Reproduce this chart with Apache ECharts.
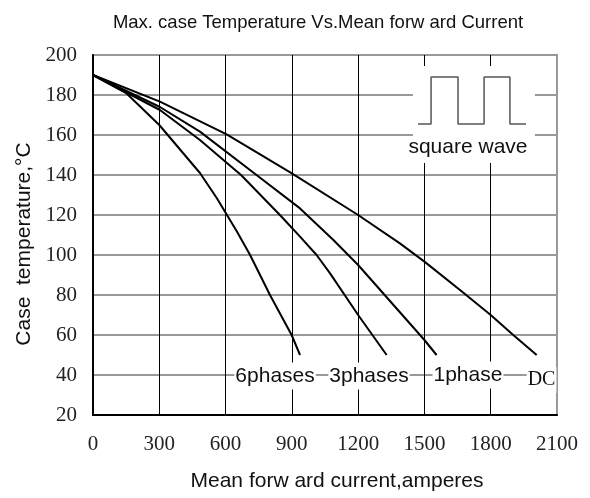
<!DOCTYPE html>
<html>
<head>
<meta charset="utf-8">
<script src="https://cdn.jsdelivr.net/npm/echarts@6/dist/echarts.min.js"></script>
<style>
  html, body { margin: 0; padding: 0; background: #fff; }
  #chart { width: 590px; height: 498px; }
</style>
</head>
<body>
<div id="chart"></div>
<script>
// axis ticks
const xTicks = [0, 300, 600, 900, 1200, 1500, 1800, 2100]
const yTicks = [20, 40, 60, 80, 100, 120, 140, 160, 180, 200]

// curves (current A, temperature °C)
const dcCurrent = [0, 303, 605, 900, 1200, 1389, 1500, 1661, 1800, 1902, 2008]
const dcTemp = [190, 176.7, 160.3, 140.8, 120, 105.8, 96.7, 82.5, 70, 60, 50]

const onePhaseCurrent = [0, 303, 484, 740, 937, 1088, 1200, 1500, 1555]
const onePhaseTemp = [190, 174, 161.7, 140, 123.3, 107.5, 95, 57.5, 50]

const threePhaseCurrent = [0, 303, 484, 670, 846, 937, 1012, 1073, 1200, 1329]
const threePhaseTemp = [190, 172.5, 157.5, 140, 120, 109.2, 100, 90.8, 70, 50]

const sixPhaseCurrent = [0, 150, 300, 484, 560, 650, 711, 801, 899, 937]
const sixPhaseTemp = [190, 181, 165, 141, 128.5, 112, 100, 80, 60, 50]

// little square wave sketch in the corner
const waveX = [1471, 1530, 1530, 1652, 1652, 1770, 1770, 1887, 1887, 1960]
const waveY = [165.5, 165.5, 189, 189, 165.5, 165.5, 189, 189, 165.5, 165.5]
const waveBox = [[1448, 194.5], [2000, 146]]

// text labels on the plot
const labelNames = ['6phases', '3phases', '1phase', 'DC', 'square wave']
const labelX = [824, 1249, 1697, 2030, 1697]
const labelY = [39.5, 39.5, 40, 37.5, 154]

const zip = (xs, ys) => xs.map((x, i) => [x, ys[i]])

const sans = 'Liberation Sans, Arial, sans-serif'
const serif = 'Liberation Serif, Times New Roman, serif'

const curve = (data) => ({
  type: 'line',
  data: data,
  symbol: 'none',
  smooth: false,
  z: 5,
  lineStyle: { color: '#000', width: 2 }
})

const chart = echarts.init(document.getElementById('chart'))

chart.setOption({
  animation: false,
  title: {
    text: 'Max. case Temperature Vs.Mean forw ard Current',
    left: 313,
    top: 8,
    textAlign: 'center',
    textStyle: {
      fontFamily: sans,
      fontSize: 18.5,
      fontWeight: 'normal',
      color: '#111'
    }
  },
  grid: {
    left: 93,
    right: 33,
    top: 55,
    bottom: 83,
    show: true,
    borderColor: '#999',
    borderWidth: 2
  },
  xAxis: {
    type: 'value',
    min: xTicks[0],
    max: xTicks[xTicks.length - 1],
    interval: 300,
    name: 'Mean forw ard current,amperes',
    nameLocation: 'middle',
    nameGap: 56,
    nameTextStyle: {
      fontFamily: sans,
      fontSize: 21,
      color: '#111',
      padding: [0, 0, 0, 24]
    },
    axisLine: { lineStyle: { color: '#000', width: 2 } },
    axisTick: { show: false },
    axisLabel: {
      margin: 19,
      fontFamily: serif,
      fontSize: 21,
      color: '#222',
      formatter: (v) => String(v)
    },
    splitLine: {
      lineStyle: {
        color: ['#000', '#000', '#000', '#000', '#000', '#000', '#000', '#999'],
        width: 1
      }
    }
  },
  yAxis: {
    type: 'value',
    min: yTicks[0],
    max: yTicks[yTicks.length - 1],
    interval: 20,
    name: 'Case  temperature,°C',
    nameLocation: 'middle',
    nameGap: 58,
    nameTextStyle: {
      fontFamily: sans,
      fontSize: 21,
      color: '#111',
      padding: [0, 18, 0, 0]
    },
    axisLine: { lineStyle: { color: '#000', width: 2 } },
    axisTick: { show: false },
    axisLabel: {
      margin: 16,
      fontFamily: serif,
      fontSize: 21,
      color: '#222',
      formatter: (v) => String(v)
    },
    splitLine: { lineStyle: { color: '#999', width: 2 } }
  },
  series: [
    {
      type: 'line',
      data: zip(waveX, waveY),
      symbol: 'none',
      z: 3,
      lineStyle: { color: '#555', width: 1.5 },
      markArea: {
        silent: true,
        itemStyle: { color: '#fff', opacity: 1 },
        data: [[{ coord: waveBox[0] }, { coord: waveBox[1] }]]
      }
    },
    curve(zip(dcCurrent, dcTemp)),
    curve(zip(onePhaseCurrent, onePhaseTemp)),
    curve(zip(threePhaseCurrent, threePhaseTemp)),
    curve(zip(sixPhaseCurrent, sixPhaseTemp)),
    {
      type: 'scatter',
      symbolSize: 0,
      z: 6,
      itemStyle: { opacity: 1 },
      data: labelNames.map((name, i) => ({
        value: [labelX[i], labelY[i]],
        label: {
          show: true,
          position: 'inside',
          formatter: name,
          fontFamily: name === 'DC' ? serif : sans,
          fontSize: name === 'DC' ? 20 : 21,
          color: '#111',
          backgroundColor: name === 'square wave' ? 'transparent' : '#fff',
          padding: [3, 1]
        }
      }))
    }
  ]
})
</script>
</body>
</html>
